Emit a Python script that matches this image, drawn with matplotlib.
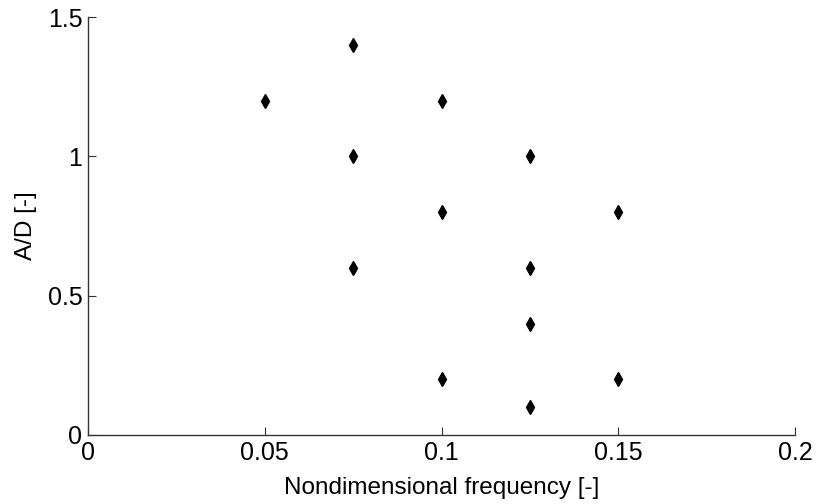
import matplotlib.pyplot as plt

plt.rcParams['font.family'] = ['Liberation Sans', 'DejaVu Sans']

freq = [0.05, 0.075, 0.075, 0.075, 0.1, 0.1, 0.1, 0.125, 0.125, 0.125, 0.125, 0.15, 0.15]
amp = [1.2, 1.4, 1.0, 0.6, 1.2, 0.8, 0.2, 1.0, 0.6, 0.4, 0.1, 0.8, 0.2]
xticks = [0, 0.05, 0.1, 0.15, 0.2]
xtick_labels = ['0', '0.05', '0.1', '0.15', '0.2']
yticks = [0, 0.5, 1, 1.5]
ytick_labels = ['0', '0.5', '1', '1.5']

fig = plt.figure(figsize=(8.18, 5.04), dpi=100)
ax = fig.add_axes([0.1076, 0.137, 0.8644, 0.829])
ax.plot(freq, amp, 'kd', markersize=7.5, linestyle='none')

ax.set_xlim(0, 0.2)
ax.set_ylim(0, 1.5)
ax.set_xticks(xticks)
ax.set_xticklabels(xtick_labels)
ax.set_yticks(yticks)
ax.set_yticklabels(ytick_labels)
ax.spines['top'].set_visible(False)
ax.spines['right'].set_visible(False)
for s in ('left', 'bottom'):
    ax.spines[s].set_color('#333333')
    ax.spines[s].set_linewidth(1.0)
ax.tick_params(direction='in', length=6, labelsize=18, colors='#333333',
               labelcolor='black', pad=4)
ax.set_xlabel('Nondimensional frequency [-]', fontsize=17.5, labelpad=9)
ax.set_ylabel('A/D [-]', fontsize=17.5, labelpad=8)

fig.savefig('out.png')
